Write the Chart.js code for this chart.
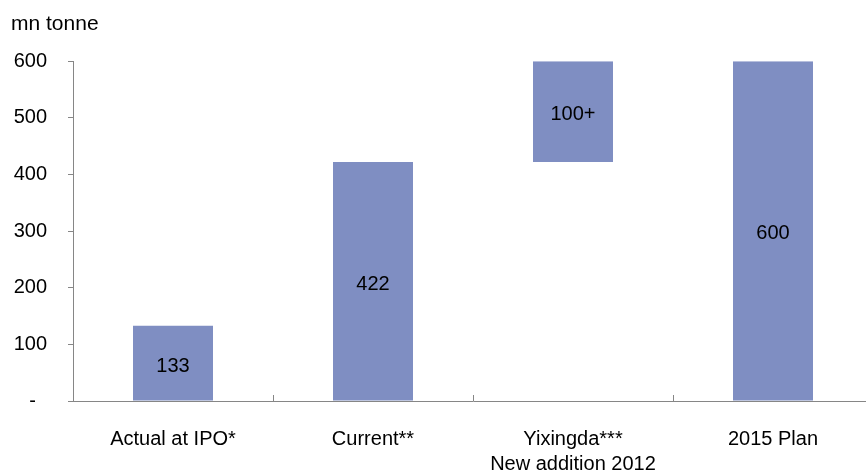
<!DOCTYPE html>
<html>
<head>
<meta charset="utf-8">
<script src="https://cdn.jsdelivr.net/npm/chart.js@4"></script>
<style>
  html, body { margin: 0; padding: 0; background: #fff; overflow: hidden; }
  #wrap { width: 873px; height: 475px; position: relative; }
</style>
</head>
<body>
<div id="wrap"><canvas id="c"></canvas></div>
<script>
const categories = [['Actual at IPO*'], ['Current**'], ['Yixingda***', 'New addition 2012'], ['2015 Plan']];
const barStart = [0, 0, 422, 0];
const barEnd = [133, 422, 600, 600];
const barLabels = ['133', '422', '100+', '600'];
const yTickValues = [0, 100, 200, 300, 400, 500, 600];
const yTickLabels = ['-  ', '100', '200', '300', '400', '500', '600'];
const unitLabel = 'mn tonne';

const FONT = "'Liberation Sans', Arial, sans-serif";
const AXIS = '#868686';
const BAR = '#7F8EC2';

const innerTicks = {
  id: 'innerTicks',
  afterDraw(chart) {
    const x = chart.scales.x;
    const ctx = chart.ctx;
    const n = categories.length;
    const w = (x.right - x.left) / n;
    ctx.save();
    ctx.strokeStyle = AXIS;
    ctx.lineWidth = 1;
    for (let i = 1; i < n; i++) {
      const px = Math.round(x.left + i * w) + 0.5;
      ctx.beginPath();
      ctx.moveTo(px, x.top - 6);
      ctx.lineTo(px, x.top);
      ctx.stroke();
    }
    ctx.restore();
  }
};

const barText = {
  id: 'barText',
  afterDatasetsDraw(chart) {
    const ctx = chart.ctx;
    const meta = chart.getDatasetMeta(0);
    ctx.save();
    ctx.font = '20px ' + FONT;
    ctx.fillStyle = '#000';
    ctx.textAlign = 'center';
    ctx.textBaseline = 'middle';
    meta.data.forEach((el, i) => {
      const cy = (el.y + el.base) / 2 + 3;
      ctx.fillText(barLabels[i], el.x, cy);
    });
    ctx.restore();
  }
};

new Chart(document.getElementById('c'), {
  type: 'bar',
  data: {
    labels: categories,
    datasets: [{
      data: barStart.map((s, i) => [s, barEnd[i]]),
      backgroundColor: BAR,
      borderWidth: 0,
      barPercentage: 0.4,
      categoryPercentage: 1.0
    }]
  },
  options: {
    responsive: true,
    maintainAspectRatio: false,
    animation: false,
    layout: { padding: { left: 11, right: 0, top: 0, bottom: 0 } },
    plugins: {
      legend: { display: false },
      tooltip: { enabled: false },
      title: {
        display: true,
        text: unitLabel,
        align: 'start',
        color: '#000',
        font: { family: FONT, size: 21, weight: 'normal' },
        padding: { top: 12, bottom: 24 }
      }
    },
    scales: {
      x: {
        grid: { display: false },
        border: { display: true, color: AXIS, width: 1 },
        ticks: {
          color: '#000',
          font: { family: FONT, size: 20, lineHeight: 1.25 },
          padding: 18,
          maxRotation: 0,
          autoSkip: false
        },
        afterFit(s) { s.height = 74; }
      },
      y: {
        min: 0,
        max: 600,
        afterBuildTicks(s) { s.ticks = yTickValues.map(v => ({ value: v })); },
        grid: { drawOnChartArea: false, drawTicks: true, tickLength: 5, color: AXIS },
        border: { display: true, color: AXIS, width: 1 },
        ticks: {
          color: '#000',
          font: { family: FONT, size: 20 },
          padding: 21,
          callback: (v, i) => yTickLabels[yTickValues.indexOf(v)]
        },
        afterFit(s) { s.width = 62; }
      }
    }
  },
  plugins: [innerTicks, barText]
});
</script>
</body>
</html>
